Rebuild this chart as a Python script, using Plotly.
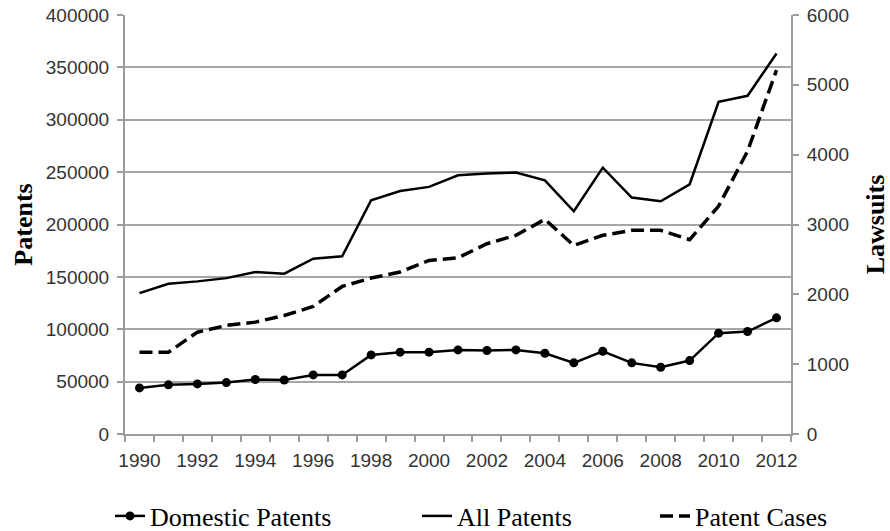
import plotly.graph_objects as go

years = list(range(1990, 2013))
tick_years = years[::2]

all_patents = [134500, 143400, 145700, 148800, 154600, 153000, 167300, 169600,
               223100, 232000, 235900, 247000, 248600, 249600, 242200, 212600,
               254300, 225700, 222200, 238400, 317100, 322900, 363300]
domestic_patents = [44000, 46900, 47800, 49100, 52000, 51600, 56400, 56400,
                    75500, 78100, 78100, 80300, 79700, 80300, 77100, 67900,
                    79000, 67900, 63700, 70100, 96300, 97800, 110900]
patent_cases = [1171, 1171, 1458, 1554, 1602, 1697, 1826, 2113, 2233, 2319,
                2486, 2524, 2725, 2845, 3074, 2701, 2845, 2916, 2916, 2782,
                3264, 4050, 5211]

GRID = "#a6a6a6"
AX = "#9c9c9c"
TICKFONT = dict(family="Liberation Sans, Arial", size=19, color="#333333")
SERIF = "Liberation Serif, Times New Roman"

fig = go.Figure()
fig.add_trace(go.Scatter(
    x=years, y=domestic_patents, name="Domestic Patents", mode="lines+markers",
    line=dict(color="black", width=2.5), marker=dict(color="black", size=9),
    legend="legend", showlegend=True))
fig.add_trace(go.Scatter(
    x=years, y=all_patents, name="All Patents", mode="lines",
    line=dict(color="black", width=2.5), legend="legend2", showlegend=True))
fig.add_trace(go.Scatter(
    x=years, y=patent_cases, name="Patent Cases", mode="lines",
    line=dict(color="black", width=3.5, dash="13px,6px"), yaxis="y2",
    legend="legend3", showlegend=True))

L, R, T, B = 125, 99, 15, 97
W, H = 890, 531

legend_common = dict(orientation="h", yanchor="middle", xanchor="left",
                     xref="container", yref="container",
                     font=dict(family=SERIF, size=26, color="black"),
                     bgcolor="rgba(0,0,0,0)")
LEG_Y = 1 - 516 / H

fig.update_layout(
    width=W, height=H,
    margin=dict(l=L, r=R, t=T, b=B, autoexpand=False),
    paper_bgcolor="white", plot_bgcolor="white",
    showlegend=True,
    legend=dict(x=110 / W, y=LEG_Y, **legend_common),
    legend2=dict(x=417 / W, y=LEG_Y, **legend_common),
    legend3=dict(x=655 / W, y=LEG_Y, **legend_common),
    xaxis=dict(
        range=[1989.5, 2012.5], tickmode="array", tickvals=tick_years,
        ticktext=[str(y) for y in tick_years], ticks="",
        showgrid=False, zeroline=False, showline=True, linecolor=AX, linewidth=2,
        tickfont=TICKFONT, ticklabelstandoff=8, automargin=False,
        minor=dict(tickmode="array", tickvals=[y - 0.5 for y in years] + [2012.5],
                   ticks="outside", ticklen=6, tickwidth=2, tickcolor=AX,
                   showgrid=False),
    ),
    yaxis=dict(
        range=[0, 400000], dtick=50000, tickformat="d",
        showgrid=True, gridcolor=GRID, gridwidth=1.5, zeroline=False,
        showline=True, linecolor=AX, linewidth=2,
        ticks="outside", ticklen=6, tickwidth=2, tickcolor=AX,
        tickfont=TICKFONT, ticklabelstandoff=4, automargin=False,
        title=dict(text="Patents", font=dict(family=SERIF, size=26, color="black", weight="bold"),
                   standoff=6),
    ),
    yaxis2=dict(
        range=[0, 6000], dtick=1000, tickformat="d", overlaying="y", side="right",
        showgrid=False, zeroline=False, showline=True, linecolor=AX, linewidth=2,
        ticks="outside", ticklen=6, tickwidth=2, tickcolor=AX,
        tickfont=TICKFONT, ticklabelstandoff=4, automargin=False,
        title=dict(text="Lawsuits", font=dict(family=SERIF, size=26, color="black", weight="bold"),
                   standoff=19),
    ),
)

fig.write_html("out.html", config={"displayModeBar": False},
               post_script="document.body.style.margin='0px';document.body.style.overflow='hidden';")
